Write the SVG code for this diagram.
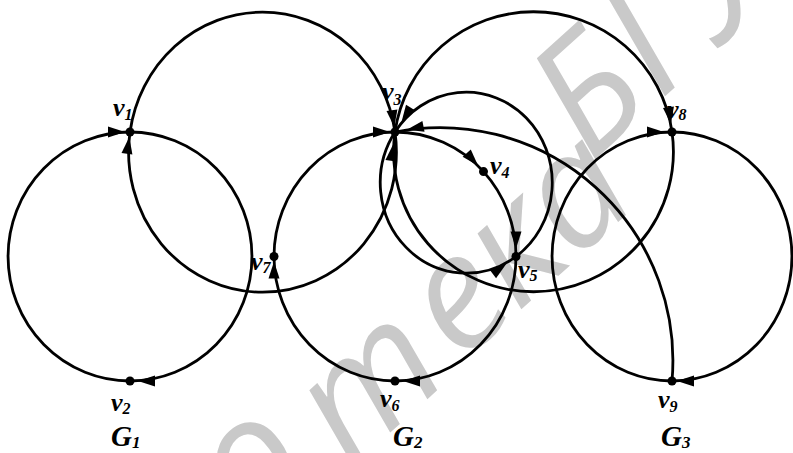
<svg xmlns="http://www.w3.org/2000/svg" width="793" height="453" viewBox="0 0 793 453">
<style>
.edge{fill:none;stroke:#000;stroke-width:2.8}
.dot{fill:#000}
.lbl{font-family:"Liberation Serif","Times New Roman",serif;font-style:italic;font-weight:bold;font-size:26px;fill:#000}
.sub{font-size:16px}
.glbl{font-family:"Liberation Serif","Times New Roman",serif;font-style:italic;font-weight:bold;font-size:29px;fill:#000}
.gsub{font-size:17px}
.wm{font-family:"Open Sans","Noto Sans",sans-serif;font-style:italic;font-weight:500;font-size:160px;fill:#c9c9c9}
</style>
<defs>
<marker id="a" markerUnits="userSpaceOnUse" viewBox="0 0 30 11" markerWidth="30" markerHeight="11" refX="22" refY="5.5" orient="auto" overflow="visible"><path d="M0,0 L17,5.5 L0,11 z" fill="#000"/></marker>
<marker id="m" markerUnits="userSpaceOnUse" viewBox="0 0 30 11" markerWidth="30" markerHeight="11" refX="25" refY="5.5" orient="auto" overflow="visible"><path d="M0,0 L17,5.5 L0,11 z" fill="#000"/></marker>
<marker id="b" markerUnits="userSpaceOnUse" viewBox="0 0 30 11" markerWidth="30" markerHeight="11" refX="29" refY="5.5" orient="auto" overflow="visible"><path d="M0,0 L17,5.5 L0,11 z" fill="#000"/></marker>
</defs>
<rect width="793" height="453" fill="#fff"/>
<g id="watermark">
<text class="wm" transform="translate(398,291) rotate(-42)" x="-710 -615 -530 -440 -360 -270 -155 -2 75 151 237 228 322 400 480 565" y="78 78 78 78 78 78 100 96 96 96 38 34 34 34 34 34">Библиотека БГУИР</text>
</g>
<g id="connectors">
<path id="e_v2_v1" class="edge" d="M130,381 A122,124.5 0 0,1 130,132" marker-end="url(#a)"/>
<path id="e_v1_v2" class="edge" d="M130,132 A122,124.5 0 0,1 130,381" marker-end="url(#m)"/>
<path id="e_v1_v3" class="edge" d="M130,132 A133.9,140 0 0,1 395,132" marker-end="url(#a)"/>
<path id="e_v3_v1" class="edge" d="M395,132 A133.9,140 0 1,1 130,132" marker-end="url(#a)"/>
<path id="e_v3_v8" class="edge" d="M395,132 A139.9,140 0 0,1 672,132" marker-end="url(#m)"/>
<path id="e_v8_v3" class="edge" d="M672,132 A139.9,140 0 1,1 395,132" marker-end="url(#b)"/>
<path id="e_v3_v4" class="edge" d="M395,132 A121,124.5 0 0,1 483.5,171.6" marker-end="url(#m)"/>
<path id="e_v4_v5" class="edge" d="M483.5,171.6 A121,124.5 0 0,1 516,256.5" marker-end="url(#m)"/>
<path id="e_v5_v6" class="edge" d="M516,256.5 A121,124.5 0 0,1 395,381" marker-end="url(#m)"/>
<path id="e_v6_v7" class="edge" d="M395,381 A121,124.5 0 0,1 274,256.5" marker-end="url(#a)"/>
<path id="e_v7_v3" class="edge" d="M274,256.5 A121,124.5 0 0,1 395,132" marker-end="url(#a)"/>
<path id="e_v9_v8" class="edge" d="M672,381 A120,124.5 0 0,1 672,132" marker-end="url(#m)"/>
<path id="e_v8_v9" class="edge" d="M672,132 A120,124.5 0 0,1 672,381" marker-end="url(#a)"/>
<path id="e_v5_v3" class="edge" d="M516,256.5 A86,90.5 0 1,0 395,132" marker-end="url(#b)"/>
<path id="e_v3_v5" class="edge" d="M395,132 A86,90.5 0 0,0 516,256.5" marker-end="url(#b)"/>
<path id="e_v9_v3" class="edge" d="M672,381 A233,233 0 0,0 395,132" marker-end="url(#b)"/>
</g>
<g id="v1"><circle class="dot" cx="130" cy="132" r="4.5"/><text class="lbl" x="113" y="116">v<tspan class="sub" dy="4">1</tspan></text></g>
<g id="v2"><circle class="dot" cx="130" cy="381" r="4.5"/><text class="lbl" x="111" y="411">v<tspan class="sub" dy="3">2</tspan></text></g>
<g id="v3"><circle class="dot" cx="395" cy="132" r="4.5"/><text class="lbl" x="382" y="100">v<tspan class="sub" dy="5">3</tspan></text></g>
<g id="v4"><circle class="dot" cx="483.5" cy="171.6" r="4.5"/><text class="lbl" x="490" y="174">v<tspan class="sub" dy="4">4</tspan></text></g>
<g id="v5"><circle class="dot" cx="516" cy="256.5" r="4.5"/><text class="lbl" x="518" y="278">v<tspan class="sub" dy="3">5</tspan></text></g>
<g id="v6"><circle class="dot" cx="395" cy="381" r="4.5"/><text class="lbl" x="380" y="407">v<tspan class="sub" dy="4">6</tspan></text></g>
<g id="v7"><circle class="dot" cx="274" cy="256.5" r="4.5"/><text class="lbl" x="251" y="270">v<tspan class="sub" dy="3">7</tspan></text></g>
<g id="v8"><circle class="dot" cx="672" cy="132" r="4.5"/><text class="lbl" x="667" y="118">v<tspan class="sub" dy="2">8</tspan></text></g>
<g id="v9"><circle class="dot" cx="672" cy="381" r="4.5"/><text class="lbl" x="658" y="408">v<tspan class="sub" dy="4">9</tspan></text></g>
<g id="G1"><text class="glbl" x="111" y="446">G<tspan class="gsub" dy="2">1</tspan></text></g>
<g id="G2"><text class="glbl" x="393" y="446">G<tspan class="gsub" dy="2">2</tspan></text></g>
<g id="G3"><text class="glbl" x="661" y="446">G<tspan class="gsub" dy="2">3</tspan></text></g>
</svg>
